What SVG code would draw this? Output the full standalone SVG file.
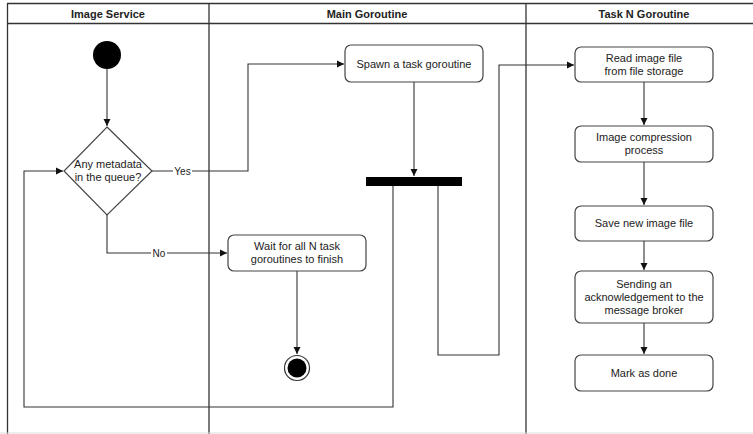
<svg xmlns="http://www.w3.org/2000/svg" width="753" height="434" viewBox="0 0 753 434">
<style>
.lane{fill:none;stroke:#333;stroke-width:1.3}
.box{fill:#fff;stroke:#444;stroke-width:1.2}
.t{font-family:"Liberation Sans",Arial,sans-serif;font-size:11px;fill:#222;text-anchor:middle}
.h{font-family:"Liberation Sans",Arial,sans-serif;font-size:11px;font-weight:bold;fill:#222;text-anchor:middle}
.c{fill:none;stroke:#333;stroke-width:1.1}
.lbl{font-family:"Liberation Sans",Arial,sans-serif;font-size:10px;fill:#222;text-anchor:middle}
</style>
<defs>
<marker id="arr" markerWidth="8" markerHeight="8" refX="7" refY="4" orient="auto" markerUnits="userSpaceOnUse">
<path d="M0,0.5 L7,4 L0,7.5 Z" fill="#111"/>
</marker>
</defs>
<rect width="753" height="434" fill="#fff"/>
<g id="lanes">
<line class="lane" x1="7" y1="3.5" x2="753" y2="3.5"/>
<line class="lane" x1="7" y1="23.5" x2="753" y2="23.5"/>
<line class="lane" x1="7.5" y1="3" x2="7.5" y2="434"/>
<line class="lane" x1="209" y1="3" x2="209" y2="434"/>
<line class="lane" x1="526" y1="3" x2="526" y2="434"/>
<line x1="0" y1="433" x2="753" y2="433" stroke="#ddd" stroke-width="1"/>
<text class="h" x="108" y="17.5">Image Service</text>
<text class="h" x="367" y="17.5">Main Goroutine</text>
<text class="h" x="644" y="17.5">Task N Goroutine</text>
</g>
<g id="connectors">
<path class="c" d="M107,69 V126" marker-end="url(#arr)"/>
<path class="c" d="M152,171 H248 V64 H344" marker-end="url(#arr)"/>
<path class="c" d="M107,215 V253 H227" marker-end="url(#arr)"/>
<path class="c" d="M414,82 V176" marker-end="url(#arr)"/>
<path class="c" d="M393,186 V407 H24 V171 H63" marker-end="url(#arr)"/>
<path class="c" d="M438,186 V355 H499 V65 H574" marker-end="url(#arr)"/>
<path class="c" d="M297,271 V354" marker-end="url(#arr)"/>
<path class="c" d="M644,82 V125" marker-end="url(#arr)"/>
<path class="c" d="M644,162 V205" marker-end="url(#arr)"/>
<path class="c" d="M644,241 V270" marker-end="url(#arr)"/>
<path class="c" d="M644,323 V354" marker-end="url(#arr)"/>
<rect x="173" y="165" width="19" height="12" fill="#fff"/>
<text class="lbl" x="182.5" y="174.5">Yes</text>
<rect x="151" y="247" width="16" height="12" fill="#fff"/>
<text class="lbl" x="159" y="256.5">No</text>
</g>
<g id="start"><circle cx="107" cy="55" r="14" fill="#000"/></g>
<g id="decision">
<polygon class="box" points="107,127 152,171 107,215 64,171"/>
<text class="t" x="108" y="168">Any metadata</text>
<text class="t" x="108" y="181">in the queue?</text>
</g>
<g id="spawn">
<rect class="box" x="345" y="45" width="138" height="37" rx="6"/>
<text class="t" x="414" y="67.5">Spawn a task goroutine</text>
</g>
<g id="fork"><rect x="366" y="177" width="96" height="9" fill="#000"/></g>
<g id="wait">
<rect class="box" x="228" y="235" width="138" height="36" rx="6"/>
<text class="t" x="297" y="250">Wait for all N task</text>
<text class="t" x="297" y="263">goroutines to finish</text>
</g>
<g id="end">
<circle cx="297" cy="368" r="12.5" fill="#fff" stroke="#333" stroke-width="1.2"/>
<circle cx="297" cy="368" r="9.5" fill="#000"/>
</g>
<g id="read">
<rect class="box" x="575" y="47" width="138" height="35" rx="6"/>
<text class="t" x="644" y="62">Read image file</text>
<text class="t" x="644" y="75">from file storage</text>
</g>
<g id="compress">
<rect class="box" x="575" y="126" width="138" height="36" rx="6"/>
<text class="t" x="644" y="141">Image compression</text>
<text class="t" x="644" y="154">process</text>
</g>
<g id="save">
<rect class="box" x="575" y="206" width="138" height="35" rx="6"/>
<text class="t" x="644" y="227">Save new image file</text>
</g>
<g id="ack">
<rect class="box" x="575" y="271" width="138" height="52" rx="6"/>
<text class="t" x="644" y="288">Sending an</text>
<text class="t" x="644" y="301">acknowledgement to the</text>
<text class="t" x="644" y="314">message broker</text>
</g>
<g id="done">
<rect class="box" x="575" y="355" width="138" height="36" rx="6"/>
<text class="t" x="644" y="377">Mark as done</text>
</g>
</svg>
